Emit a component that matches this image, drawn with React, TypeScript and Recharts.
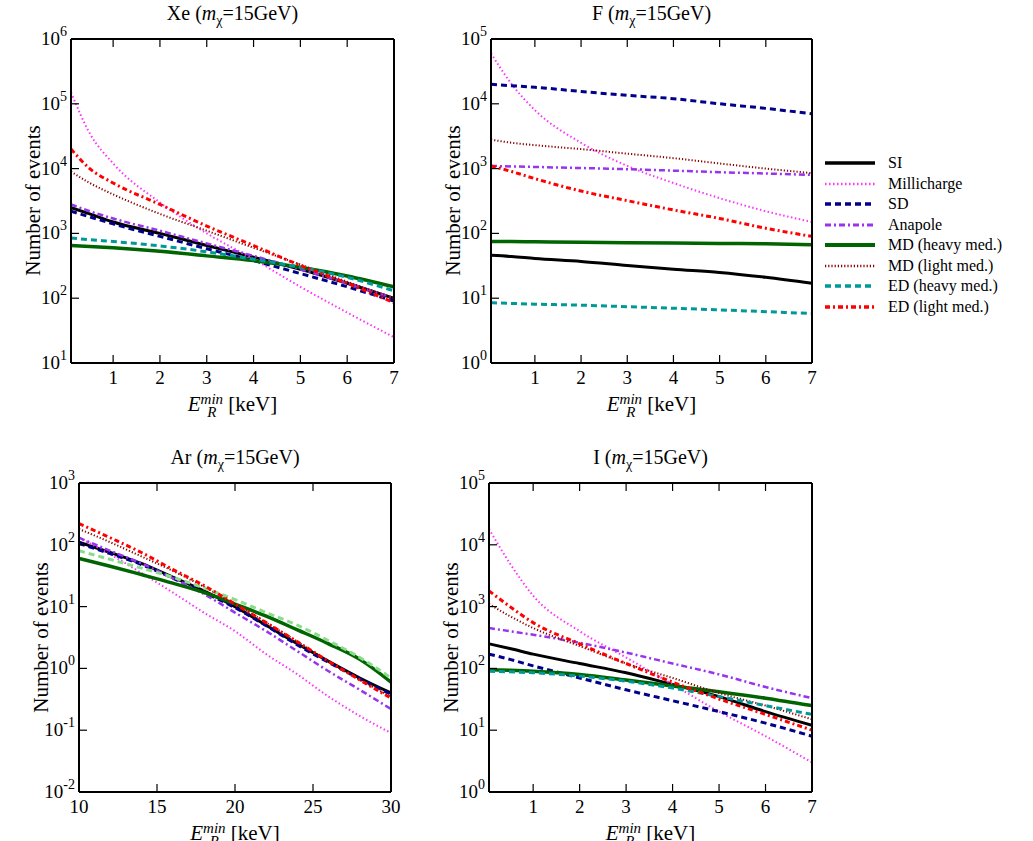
import React from 'react';
import { LineChart, Line, XAxis, YAxis } from 'recharts';

const ER_XE = [0.1, 0.5, 1, 2, 3, 4, 5, 6, 7];
const ER_LOW = [0.05, 0.5, 1, 2, 3, 4, 5, 6, 7];
const ER_AR = [10, 12, 14, 16, 18, 20, 22, 24, 26, 28, 30];

const xe = {
  SI: [2500, 2000, 1500, 1000, 650, 430, 280, 170, 100],
  Milli: [150000, 35000, 12000, 3000, 1000, 400, 150, 60, 25],
  SD: [2200, 1800, 1400, 900, 580, 380, 240, 150, 90],
  Ana: [2800, 2200, 1700, 1100, 700, 450, 280, 170, 100],
  MDh: [650, 630, 600, 530, 450, 380, 300, 220, 150],
  MDl: [9000, 6000, 4000, 2000, 1100, 600, 330, 180, 100],
  EDh: [850, 800, 750, 640, 520, 400, 300, 210, 130],
  EDl: [20000, 10000, 6000, 2800, 1300, 650, 320, 170, 85],
};
const fl = {
  SI: [46, 44, 41, 37, 32, 28, 25, 21, 17],
  Milli: [60000, 20000, 8000, 2500, 1100, 600, 350, 220, 150],
  SD: [20000, 19000, 18000, 15500, 13500, 12000, 10000, 8500, 7000],
  Ana: [1100, 1080, 1060, 1020, 980, 930, 880, 840, 800],
  MDh: [75, 75, 74, 73, 72, 71, 70, 69, 67],
  MDl: [2800, 2500, 2300, 2000, 1700, 1450, 1200, 1000, 850],
  EDh: [8.5, 8.3, 8.1, 7.8, 7.4, 7, 6.6, 6.2, 5.8],
  EDl: [1100, 900, 700, 450, 320, 230, 170, 120, 90],
};
const ar = {
  SI: [110, 75, 50, 30, 18, 10, 5, 2.5, 1.3, 0.7, 0.4],
  Milli: [130, 70, 35, 17, 8, 4, 1.7, 0.8, 0.35, 0.17, 0.09],
  SD: [105, 72, 48, 29, 17, 9.6, 4.9, 2.4, 1.25, 0.68, 0.38],
  Ana: [130, 80, 50, 29, 16, 8, 4, 1.9, 0.9, 0.45, 0.22],
  MDh: [60, 45, 33, 24, 17, 11, 7, 4.2, 2.5, 1.4, 0.6],
  MDl: [180, 110, 65, 38, 21, 11, 5.5, 2.7, 1.3, 0.65, 0.35],
  EDh: [80, 58, 42, 30, 20, 13, 8, 5, 2.8, 1.5, 0.7],
  EDl: [220, 130, 75, 40, 22, 11, 5.5, 2.7, 1.3, 0.65, 0.33],
};
const io = {
  SI: [250, 210, 170, 120, 85, 55, 35, 20, 12],
  Milli: [18000, 5000, 1500, 400, 150, 55, 20, 8, 3],
  SD: [170, 140, 110, 70, 45, 30, 20, 13, 8],
  Ana: [450, 400, 350, 260, 180, 120, 80, 50, 33],
  MDh: [95, 93, 90, 80, 65, 52, 42, 33, 25],
  MDl: [1100, 700, 450, 230, 120, 70, 40, 25, 15],
  EDh: [90, 88, 85, 75, 62, 48, 35, 25, 18],
  EDl: [1800, 1000, 550, 250, 120, 60, 32, 18, 10],
};

const SERIES = [
  { key: 'SI', name: 'SI', color: '#000000', width: 3, dash: undefined },
  { key: 'Milli', name: 'Millicharge', color: '#ff33ff', width: 2, dash: '1.5 2.5' },
  { key: 'SD', name: 'SD', color: '#00008b', width: 3, dash: '6 4' },
  { key: 'Ana', name: 'Anapole', color: '#9933ee', width: 2.5, dash: '6 3 2 3' },
  { key: 'MDh', name: 'MD (heavy med.)', color: '#006400', width: 3.5, dash: undefined },
  { key: 'MDl', name: 'MD (light med.)', color: '#8b0000', width: 2, dash: '1.2 2' },
  { key: 'EDh', name: 'ED (heavy med.)', color: '#009999', width: 3, dash: '6 4' },
  { key: 'EDl', name: 'ED (light med.)', color: '#ff0000', width: 3, dash: '5 3 2 3' },
];

const FONT = '"Liberation Serif", "DejaVu Serif", serif';

function rows(xs: number[], s: Record<string, number[]>) {
  return xs.map((x, i) => {
    const r: Record<string, number> = { x };
    Object.keys(s).forEach((k) => (r[k] = s[k][i]));
    return r;
  });
}

const YTick = (props: any) => {
  const { x, y, payload } = props;
  const e = Math.round(Math.log10(payload.value));
  return (
    <g>
      <line x1={x} x2={x + 8} y1={y} y2={y} stroke="#000" strokeWidth={1.2} />
      <text x={x - 4} y={y + 6} textAnchor="end" fontFamily={FONT} fontSize={19}>
        10
        <tspan dy={-9} fontSize={14}>{e}</tspan>
      </text>
    </g>
  );
};
const YTickR = (props: any) => {
  const { x, y } = props;
  return <line x1={x} x2={x - 8} y1={y} y2={y} stroke="#000" strokeWidth={1.2} />;
};
const XTick = (props: any) => {
  const { x, y, payload } = props;
  return (
    <g>
      <line x1={x} x2={x} y1={y} y2={y - 8} stroke="#000" strokeWidth={1.2} />
      <text x={x} y={y + 21} textAnchor="middle" fontFamily={FONT} fontSize={19}>
        {payload.value}
      </text>
    </g>
  );
};
const XTickT = (props: any) => {
  const { x, y } = props;
  return <line x1={x} x2={x} y1={y} y2={y + 8} stroke="#000" strokeWidth={1.2} />;
};

const AX = { stroke: '#000', strokeWidth: 2 };

function Panel(p: {
  px: number; py: number; pw: number; ph: number; data: any[]; xDomain: number[]; xTicks: number[];
  yDomain: number[]; yTicks: number[]; title: string; ar?: boolean;
}) {
  const W = p.pw + 77, H = p.ph + 73;
  return (
    <div style={{ position: 'absolute', left: p.px - 61, top: p.py - 39, width: W, height: H }}>
      <LineChart width={W} height={H} data={p.data} margin={{ top: 39, left: 61, right: 16, bottom: 34 }}>
        <XAxis dataKey="x" type="number" domain={p.xDomain} ticks={p.xTicks} allowDataOverflow
          tickSize={0} tickMargin={0} tick={<XTick />} axisLine={AX} height={1} />
        <XAxis xAxisId="t" orientation="top" dataKey="x" type="number" domain={p.xDomain} ticks={p.xTicks}
          tickSize={0} tickMargin={0} tick={<XTickT />} axisLine={AX} height={1} />
        <YAxis scale="log" domain={p.yDomain} ticks={p.yTicks} allowDataOverflow type="number"
          tickSize={0} tickMargin={0} tick={<YTick />} axisLine={AX} width={1} />
        <YAxis yAxisId="r" orientation="right" scale="log" domain={p.yDomain} ticks={p.yTicks} type="number"
          tickSize={0} tickMargin={0} tick={<YTickR />} axisLine={AX} width={1} />
        {SERIES.map((s) => (
          <Line key={s.key} dataKey={s.key} type="monotone" dot={false} isAnimationActive={false}
            stroke={p.ar && s.key === 'EDh' ? '#88dd88' : s.color} strokeWidth={s.width} strokeDasharray={s.dash} />
        ))}
      </LineChart>
      <div style={{ position: 'absolute', left: 61, width: p.pw, top: 3, textAlign: 'center', fontFamily: FONT, fontSize: 20 }}>
        {p.title} (<i>m</i><sub style={{ fontSize: 14 }}>χ</sub>=15GeV)
      </div>
      <div style={{ position: 'absolute', left: 61, width: p.pw, top: p.ph + 67, textAlign: 'center', fontFamily: FONT, fontSize: 21, lineHeight: '24px' }}>
        <i>E</i><span style={{ display: 'inline-flex', flexDirection: 'column', verticalAlign: 'middle', fontSize: 15, lineHeight: '13px' }}>
          <i>min</i><i>R</i></span> [keV]
      </div>
      <div style={{ position: 'absolute', left: -66, top: 39 + p.ph / 2 - 13, width: 180, textAlign: 'center', transform: 'rotate(-90deg)', fontFamily: FONT, fontSize: 21 }}>
        Number of events
      </div>
    </div>
  );
}

export default function App() {
  const lowTicks = [1, 2, 3, 4, 5, 6, 7];
  return (
    <div style={{ position: 'fixed', left: 0, top: 0, width: 1033, height: 841, background: '#fff', overflow: 'hidden' }}>
      <Panel px={70} py={38} pw={325} ph={326} data={rows(ER_XE, xe)} xDomain={[0.1, 7]} xTicks={lowTicks}
        yDomain={[10, 1e6]} yTicks={[1e1, 1e2, 1e3, 1e4, 1e5, 1e6]} title="Xe" />
      <Panel px={490} py={38} pw={323} ph={326} data={rows(ER_LOW, fl)} xDomain={[0.05, 7]} xTicks={lowTicks}
        yDomain={[1, 1e5]} yTicks={[1, 1e1, 1e2, 1e3, 1e4, 1e5]} title="F" />
      <Panel px={78} py={482} pw={314} ph={311} data={rows(ER_AR, ar)} xDomain={[10, 30]} xTicks={[10, 15, 20, 25, 30]}
        yDomain={[0.01, 1e3]} yTicks={[0.01, 0.1, 1, 1e1, 1e2, 1e3]} title="Ar" ar />
      <Panel px={488} py={482} pw={325} ph={311} data={rows(ER_LOW, io)} xDomain={[0.05, 7]} xTicks={lowTicks}
        yDomain={[1, 1e5]} yTicks={[1, 1e1, 1e2, 1e3, 1e4, 1e5]} title="I" />
      <div style={{ position: 'absolute', left: 825, top: 153, fontFamily: FONT, fontSize: 16 }}>
        {SERIES.map((s) => (
          <div key={s.key} style={{ display: 'flex', alignItems: 'center', height: 20.5 }}>
            <svg width={50} height={10} style={{ marginRight: 13 }}>
              <line x1={0} x2={50} y1={5} y2={5} stroke={s.color} strokeWidth={s.width + 0.5} strokeDasharray={s.dash} />
            </svg>
            {s.name}
          </div>
        ))}
      </div>
    </div>
  );
}
